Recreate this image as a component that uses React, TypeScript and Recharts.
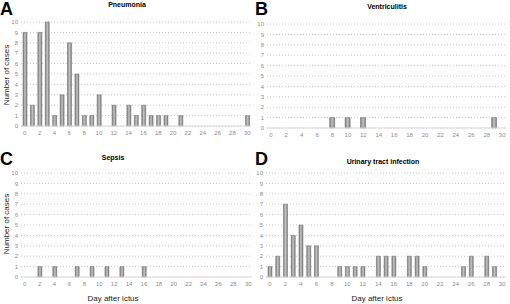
import React from 'react'
import { Bar, BarChart, CartesianGrid, XAxis, YAxis } from 'recharts'

const days = Array.from({ length: 31 }, (_, i) => i)

// cases per day after ictus, day 0..30
const pneumonia = [9, 2, 9, 10, 1, 3, 8, 5, 1, 1, 3, 0, 2, 0, 2, 1, 2, 1, 1, 1, 0, 1, 0, 0, 0, 0, 0, 0, 0, 0, 1]
const ventriculitis = [0, 0, 0, 0, 0, 0, 0, 0, 1, 0, 1, 0, 1, 0, 0, 0, 0, 0, 0, 0, 0, 0, 0, 0, 0, 0, 0, 0, 0, 1, 0]
const sepsis = [0, 0, 1, 0, 1, 0, 0, 1, 0, 1, 0, 1, 0, 1, 0, 0, 1, 0, 0, 0, 0, 0, 0, 0, 0, 0, 0, 0, 0, 0, 0]
const uti = [1, 2, 7, 4, 5, 3, 3, 0, 0, 1, 1, 1, 1, 0, 2, 2, 2, 0, 2, 2, 1, 0, 0, 0, 0, 1, 2, 0, 2, 1, 0]

const yTicks = [0, 1, 2, 3, 4, 5, 6, 7, 8, 9, 10]

type PanelProps = {
  id: string
  letter: string
  title: string
  values: number[]
  left: number
  top: number
  margin: { top: number; right: number; left: number; bottom: number }
  yWidth: number
  titleX: number
  titleY: number
  barSize: number
}

const Panel = ({ id, letter, title, values, left, top, margin, yWidth, titleX, titleY, barSize }: PanelProps) => {
  const data = days.map((d, i) => ({ day: d, cases: values[i] }))
  return (
    <div style={{ position: 'absolute', left, top, width: 255, height: 150 }}>
      <BarChart width={255} height={150} data={data} margin={margin} barSize={barSize}>
        <defs>
          <linearGradient id={'g' + id} x1="0" y1="0" x2="1" y2="0">
            <stop offset="0%" stopColor="#7a7a7a" />
            <stop offset="50%" stopColor="#c4c4c4" />
            <stop offset="100%" stopColor="#7a7a7a" />
          </linearGradient>
        </defs>
        <CartesianGrid vertical={false} strokeDasharray="1 2" stroke="#c8c8c8" />
        <XAxis
          dataKey="day"
          interval={1}
          height={150 - margin.top - margin.bottom - 104}
          tickLine={false}
          tickSize={5}
          tickMargin={0}
          stroke="#d9d9d9"
          tick={{ fontSize: 6, fill: '#8c8c8c', fontFamily: 'Arial, Liberation Sans' }}
        />
        <YAxis
          domain={[0, 10]}
          ticks={yTicks}
          interval={0}
          width={yWidth}
          axisLine={false}
          tickLine={false}
          tickSize={3}
          tickMargin={0}
          tick={{ fontSize: 6, fill: '#8c8c8c', fontFamily: 'Arial, Liberation Sans' }}
        />
        <Bar dataKey="cases" fill={`url(#g${id})`} stroke="#6a6a6a" strokeWidth={0.5} isAnimationActive={false} />
      </BarChart>
      <div style={{ position: 'absolute', left: 0, top: 0, fontSize: 18, fontWeight: 'bold', fontFamily: 'Arial, Liberation Sans', lineHeight: '18px' }}>
        {letter}
      </div>
      <div
        style={{
          position: 'absolute',
          left: titleX,
          top: titleY,
          transform: 'translateX(-50%)',
          fontSize: 7,
          fontWeight: 'bold',
          fontFamily: 'Arial, Liberation Sans',
          whiteSpace: 'nowrap',
          lineHeight: '8px',
        }}
      >
        {title}
      </div>
    </div>
  )
}

const axisLabel: React.CSSProperties = {
  position: 'absolute',
  fontSize: 8,
  fontFamily: 'Arial, Liberation Sans',
  color: '#222',
  whiteSpace: 'nowrap',
  lineHeight: '9px',
}

export default function App() {
  return (
    <div style={{ position: 'absolute', left: 0, top: 0, width: 510, height: 304, background: '#fff', overflow: 'hidden' }}>
      <Panel id="a" letter="A" title="Pneumonia" values={pneumonia} left={0} top={0}
        margin={{ top: 22, right: 4, left: 0, bottom: 0 }} yWidth={21} titleX={127} titleY={1} barSize={4} />
      <Panel id="b" letter="B" title="Ventriculitis" values={ventriculitis} left={255} top={0}
        margin={{ top: 24, right: 4, left: 0, bottom: 0 }} yWidth={12} titleX={132} titleY={3} barSize={5} />
      <Panel id="c" letter="C" title="Sepsis" values={sepsis} left={0} top={150}
        margin={{ top: 23, right: 3, left: 0, bottom: 0 }} yWidth={21} titleX={113} titleY={4} barSize={4} />
      <Panel id="d" letter="D" title="Urinary tract infection" values={uti} left={255} top={150}
        margin={{ top: 23, right: 4, left: 0, bottom: 0 }} yWidth={11} titleX={128} titleY={8} barSize={4} />
      <div style={{ ...axisLabel, left: 6, top: 75, transform: 'translate(-50%, -50%) rotate(-90deg)' }}>Number of cases</div>
      <div style={{ ...axisLabel, left: 6, top: 224, transform: 'translate(-50%, -50%) rotate(-90deg)' }}>Number of cases</div>
      <div style={{ ...axisLabel, left: 113, top: 294 }}>
        <span style={{ display: 'inline-block', transform: 'translateX(-50%)' }}>Day after ictus</span>
      </div>
      <div style={{ ...axisLabel, left: 377, top: 294 }}>
        <span style={{ display: 'inline-block', transform: 'translateX(-50%)' }}>Day after ictus</span>
      </div>
    </div>
  )
}
